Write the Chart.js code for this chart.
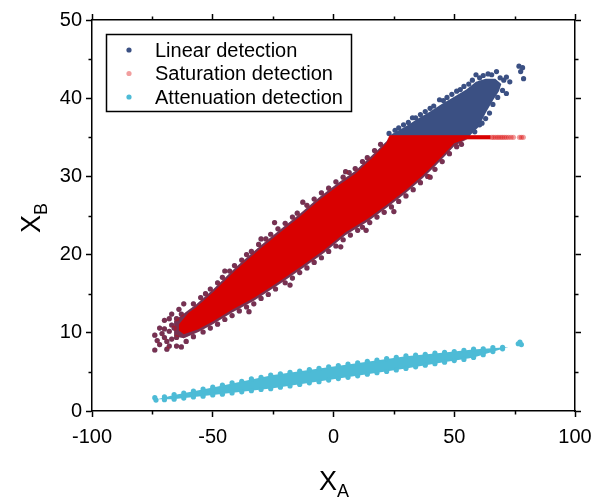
<!DOCTYPE html>
<html lang="en">
<head>
<meta charset="UTF-8" />
<title>XA vs XB detection</title>
<script src="https://cdn.jsdelivr.net/npm/chart.js"></script>
<style>
  html, body { margin: 0; padding: 0; background: #fff; }
</style>
</head>
<body>
<canvas id="chart" width="603" height="502"></canvas>
<script>
  const seriesNames = ['Linear detection', 'Saturation detection', 'Attenuation detection'];
  const seriesColors = ['#3b5083', 'rgba(217,0,0,0.38)', '#4dbbd6'];
  const seriesSolid = ['#3b5083', '#d90000', '#4dbbd6'];

  const xTicks = [-100, -50, 0, 50, 100];
  const yTicks = [0, 10, 20, 30, 40, 50];
  const xMinor = [-75, -25, 25, 75];
  const yMinor = [5, 15, 25, 35, 45];

  // outline of the whole linear-detection cloud (x, y)
  const linearOuter = [[-66,9.6],[-66,11.5],[-60,12.9],[-57,13.6],[-50,15.5],[-40,18.5],[-30,21.2],[-22,23.2],[-14,25.2],[-6,27.3],[2,29.2],[9,30.7],[16,32.7],[22,34.5],[24,35.4],[30,36.4],[35,37.4],[40,38.3],[45,39.3],[50,40.2],[55,41.1],[59,42.1],[63,42.5],[67,42.5],[69.5,41.8],[68.5,40.9],[66,39.7],[63,38.1],[60,36.3],[57,35.4],[55.5,34.8],[50,33.9],[46.7,32.8],[42,31.3],[37,29.8],[30,27.9],[22,26.0],[14,24.2],[5,22.5],[-4,20.2],[-12.7,18.3],[-22,16.3],[-33,14.1],[-42,12.6],[-50,11.1],[-56,10.1],[-62,9.3],[-66,9.6]];

  // outline of the saturation cloud (sparse rim) and its dense core
  const saturationOuter = [[-66,9.6],[-66,11.5],[-60,12.9],[-57,13.6],[-50,15.5],[-40,18.5],[-30,21.2],[-22,23.2],[-14,25.2],[-6,27.3],[2,29.2],[9,30.7],[16,32.7],[22,34.5],[23,35.25],[65,35.25],[65,34.75],[55.5,34.75],[50,33.9],[46.7,32.8],[42,31.3],[37,29.8],[30,27.9],[22,26.0],[14,24.2],[5,22.5],[-4,20.2],[-12.7,18.3],[-22,16.3],[-33,14.1],[-42,12.6],[-50,11.1],[-56,10.1],[-62,9.3],[-66,9.6]];

  const saturationCore = [[-64,10.3],[-64,11.1],[-60,12.55],[-57,13.25],[-50,15.15],[-40,18.15],[-30,20.85],[-22,22.85],[-14,24.85],[-6,26.95],[2,28.85],[9,30.35],[16,32.35],[21.8,34.2],[23.3,35.25],[65,35.25],[65,34.75],[54.5,34.75],[50,34.25],[46.7,33.15],[42,31.65],[37,30.15],[30,28.25],[22,26.35],[14,24.55],[5,22.85],[-4,20.55],[-12.7,18.65],[-22,16.65],[-33,14.45],[-42,12.95],[-50,11.45],[-56,10.45],[-62,9.8],[-64,10.3]];

  const attenuationCore = [[-73,1.5],[-66.5,2.0],[-50,3.0],[-25,4.6],[0,5.7],[30,7.0],[45,7.45],[57.7,7.85],[71.5,8.15],[72.5,8.2],[71.5,8.1],[57.7,6.8],[45,6.2],[30,5.45],[0,4.05],[-25,2.9],[-50,2.05],[-66.5,1.5],[-73,1.5]];

  // loose points around the band below the saturation level
  const bandEdge = [[-74,7.8],[-74,9.7],[-72,8.5],[-71,9.9],[-70,10.5],[-69,8.9],[-68,10.2],[-67,9.2],[-68,8.3],[-70,9.4],[-72,10.6],[-70,11.6],[-68,11.8],[-67,12.4],[-73,9.0],[-69,7.9],[-65,8.3],[-63,8.2],[-64,13.0],[-62,13.7],[-66,10.6],[-65,9.4],[-65,11.8],[-63,12.4],[-61,8.9],[-67,11.0],
    [-58,13.7],[-55,14.5],[-53,15.0],[-51,15.6],[-48,16.4],[-46,17.1],[-45,17.9],[-43,17.9],[-41,18.6],[-38,19.3],[-36,20.0],[-34,20.4],[-31,21.3],[-30,22.0],[-28,22.0],[-26,22.6],[-24.4,24.1],[-23,23.3],[-20,24.0],[-17,24.8],[-15,25.3],[-12.7,26.7],[-11,26.3],[-8,27.1],[-5,27.9],[-2,28.5],[1,29.3],[4,29.9],[5,30.6],[6.5,30.5],[9,31.0],[12,31.9],[14,32.4],[17,33.3],[19.5,34.1],
    [-58,9.5],[-54,10.1],[-51,10.6],[-48,11.1],[-45,11.7],[-42,12.2],[-39,12.8],[-36,13.3],[-35,12.7],[-33,13.7],[-30,14.4],[-27,14.9],[-24,15.6],[-20,16.4],[-18,16.1],[-17,17.0],[-14,17.7],[-11,18.3],[-8,19.0],[-5,19.6],[-2,20.4],[1,21.1],[3,21.0],[4,21.9],[7,22.5],[10,23.1],[12,23.5],[13.5,23.1],[15,24.1],[18,24.8],[21,25.4],[24,26.1],[25,25.5],[27,26.8],[30,27.5],[33,28.3],[36,29.2],[39,30.0],[40,29.9],[42,30.9],[45,31.9],[48,32.9],[51,33.8],[53,34.1]];

  // linear detection points above the saturation level
  const linearTop = [[23,35.5],[25.5,35.9],[27,36.2],[29,36.6],[31,36.9],[32.7,37.5],[34,37.5],[36,37.9],[38,38.3],[40,38.7],[41.5,39.0],[43.9,39.8],[45.5,39.7],[47,40.1],[49,40.5],[51,40.9],[52.5,41.1],[54,41.5],[56,41.8],[57.5,42.3],[59,43.0],[60.5,42.6],[62,42.9],[64,43.1],[65.5,43.0],[67.5,43.4],[69,42.6],[70.5,42.3],[71.6,42.7],[73,42.1],
    [71.6,40.6],[70,41.0],[68,40.1],[66,39.2],[64.6,38.1],[63,37.4],[61.5,36.8],[60.5,36.6],[58.5,35.7],
    [78.3,43.9],[78.7,42.5],[77.5,43.4],[76.8,44.1]];

  // saturated points on the 35 level beyond the dense part
  const saturationLine = [[65.5,35],[66.2,35],[67,35],[67.8,35],[68.5,35],[69.3,35],[70,35],[70.8,35],[71.6,35],[72.5,35],[73.5,35],[74.5,35],[77,35],[77.8,35],[78.6,35]];

  const attenuationEdge = [[-74,1.7],[-73.5,1.4],
    [-70,1.8],[-66,2.1],[-62,2.3],[-58,2.55],[-54,2.8],[-50,3.05],[-46,3.3],[-42,3.6],[-38,3.8],[-34,4.1],[-30,4.3],[-26,4.6],[-22,4.75],[-18,4.95],[-14,5.1],[-10,5.3],[-6,5.45],[-2,5.65],[2,5.8],[6,6.0],[10,6.15],[14,6.35],[18,6.5],[22,6.7],[26,6.85],[30,7.05],[34,7.15],[38,7.25],[42,7.4],[46,7.5],[50,7.6],[54,7.75],[58,7.9],[62,7.95],[66,8.1],[70,8.15],
    [-70,1.45],[-66,1.5],[-62,1.65],[-58,1.8],[-54,1.9],[-50,2.05],[-46,2.15],[-42,2.3],[-38,2.45],[-34,2.6],[-30,2.75],[-26,2.85],[-22,3.05],[-18,3.2],[-14,3.4],[-10,3.6],[-6,3.75],[-2,3.95],[2,4.15],[6,4.3],[10,4.5],[14,4.7],[18,4.9],[22,5.05],[26,5.25],[30,5.45],[34,5.65],[38,5.85],[42,6.05],[46,6.25],[50,6.45],[54,6.6],[58,6.85],[62,7.2],[66,7.6],[70,7.95],
    [76.5,8.6],[77.2,8.8],[77.8,8.5]];

  const pts = arr => arr.map(p => ({ x: p[0], y: p[1] }));
  const FONT = "'Liberation Sans', Arial, sans-serif";

  function cloudSet(data, color, order) {
    return {
      type: 'line', data: pts(data), order,
      borderColor: 'rgba(0,0,0,0)', backgroundColor: color, borderWidth: 0,
      fill: 'shape', pointRadius: 0, pointHitRadius: 0, tension: 0
    };
  }

  const minorTicks = {
    id: 'minorTicks',
    afterDraw(chart) {
      const { ctx, chartArea: a, scales: { x, y } } = chart;
      ctx.save();
      ctx.strokeStyle = '#000';
      ctx.lineWidth = 1.5;
      ctx.beginPath();
      xMinor.forEach(v => {
        const px = Math.round(x.getPixelForValue(v)) + 0.5;
        ctx.moveTo(px, a.bottom); ctx.lineTo(px, a.bottom + 3.5);
        ctx.moveTo(px, a.top); ctx.lineTo(px, a.top - 3.5);
      });
      yMinor.forEach(v => {
        const py = Math.round(y.getPixelForValue(v)) + 0.5;
        ctx.moveTo(a.left, py); ctx.lineTo(a.left - 3.5, py);
        ctx.moveTo(a.right, py); ctx.lineTo(a.right + 3.5, py);
      });
      ctx.stroke();
      ctx.restore();
    }
  };

  const titlesAndLegend = {
    id: 'titlesAndLegend',
    afterDraw(chart) {
      const { ctx } = chart;
      ctx.save();
      ctx.fillStyle = '#000';
      ctx.textBaseline = 'alphabetic';
      // x title
      ctx.font = '27px ' + FONT;
      const wx = ctx.measureText('X').width;
      ctx.fillText('X', 319, 490);
      ctx.font = '18px ' + FONT;
      ctx.fillText('A', 319 + wx, 497);
      // y title
      ctx.save();
      ctx.translate(40, 233);
      ctx.rotate(-Math.PI / 2);
      ctx.font = '27px ' + FONT;
      ctx.fillText('X', 0, 0);
      ctx.font = '18px ' + FONT;
      ctx.fillText('B', wx, 7);
      ctx.restore();
      // legend
      ctx.fillStyle = '#fff';
      ctx.fillRect(106, 34, 245, 77);
      ctx.strokeStyle = '#000';
      ctx.lineWidth = 1.5;
      ctx.strokeRect(106.5, 34.5, 245, 77);
      ctx.font = '20px ' + FONT;
      ctx.textBaseline = 'middle';
      seriesNames.forEach((name, i) => {
        const cy = 50 + i * 23.5;
        ctx.fillStyle = seriesColors[i];
        ctx.beginPath();
        ctx.arc(129, cy, 2.6, 0, Math.PI * 2);
        ctx.fill();
        ctx.fillStyle = '#000';
        ctx.fillText(name, 155, cy + 1);
      });
      ctx.restore();
    }
  };

  const axisGrid = { drawOnChartArea: false, tickLength: 6, tickColor: '#000', tickWidth: 1.5 };
  const axisBorder = { display: true, color: '#000', width: 1.5 };

  new Chart(document.getElementById('chart'), {
    type: 'scatter',
    data: {
      datasets: [
        { label: seriesNames[0], data: pts(bandEdge.concat(linearTop)), order: 6,
          backgroundColor: seriesColors[0], borderWidth: 0, pointRadius: 2.6 },
        { label: seriesNames[1], data: pts(bandEdge.concat(saturationLine)), order: 1,
          backgroundColor: seriesColors[1], borderWidth: 0, pointRadius: 2.6 },
        { label: seriesNames[2], data: pts(attenuationEdge), order: 4,
          backgroundColor: seriesColors[2], borderWidth: 0, pointRadius: 2.6 },
        cloudSet(linearOuter, seriesSolid[0], 7),
        cloudSet(attenuationCore, seriesSolid[2], 5),
        cloudSet(saturationOuter, seriesColors[1], 3),
        cloudSet(saturationCore, seriesSolid[1], 2)
      ]
    },
    options: {
      responsive: false,
      animation: false,
      events: [],
      layout: { padding: { left: 0, top: 20, right: 28, bottom: 0 } },
      plugins: { legend: { display: false }, tooltip: { enabled: false } },
      scales: {
        x: {
          type: 'linear', position: 'bottom', min: -100, max: 100,
          afterBuildTicks: s => { s.ticks = xTicks.map(v => ({ value: v })); },
          afterFit: s => { s.height = 91; },
          ticks: { color: '#000', font: { family: FONT, size: 20 }, padding: 8, maxRotation: 0 },
          grid: axisGrid, border: axisBorder
        },
        y: {
          type: 'linear', position: 'left', min: 0, max: 50,
          afterBuildTicks: s => { s.ticks = yTicks.map(v => ({ value: v })); },
          afterFit: s => { s.width = 92; },
          ticks: { color: '#000', font: { family: FONT, size: 20 }, padding: 4 },
          grid: axisGrid, border: axisBorder
        },
        x2: {
          type: 'linear', axis: 'x', position: 'top', min: -100, max: 100,
          afterBuildTicks: s => { s.ticks = xTicks.map(v => ({ value: v })); },
          afterFit: s => { s.height = 0; },
          ticks: { display: false },
          grid: axisGrid, border: axisBorder
        },
        y2: {
          type: 'linear', axis: 'y', position: 'right', min: 0, max: 50,
          afterBuildTicks: s => { s.ticks = yTicks.map(v => ({ value: v })); },
          afterFit: s => { s.width = 0; },
          ticks: { display: false },
          grid: axisGrid, border: axisBorder
        }
      }
    },
    plugins: [minorTicks, titlesAndLegend]
  });
</script>
</body>
</html>
